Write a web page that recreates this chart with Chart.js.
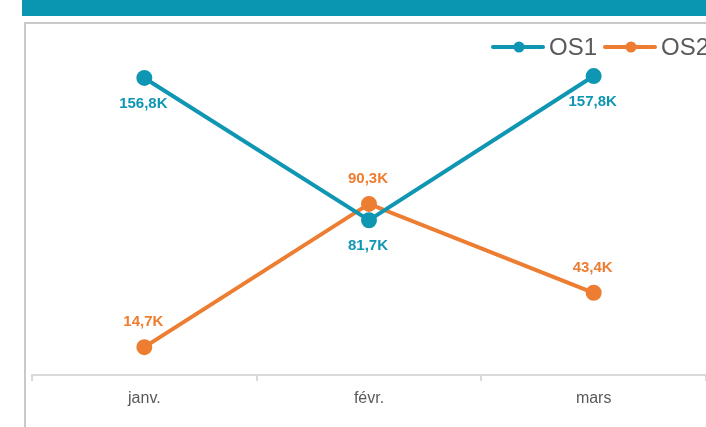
<!DOCTYPE html>
<html>
<head>
<meta charset="utf-8">
<script src="https://cdn.jsdelivr.net/npm/chart.js@4"></script>
<style>
  html, body { margin:0; padding:0; background:#fff; width:706px; height:427px; overflow:hidden; }
  #bar { position:absolute; left:22px; top:0; width:684px; height:16px; background:#0a95b1; }
  #panel { position:absolute; left:24px; top:22px; width:700px; height:420px; border-left:2px solid #c9c9c9; border-top:2px solid #c9c9c9; }
  #c { position:absolute; left:0; top:0; }
</style>
</head>
<body>
<div id="bar"></div>
<div id="panel"></div>
<canvas id="c" width="706" height="427"></canvas>
<script>
const categories = ["janv.", "févr.", "mars"];
const seriesNames = ["OS1", "OS2"];
const os1Values = [156800, 81700, 157800];
const os2Values = [14700, 90300, 43400];
const os1Labels = ["156,8K", "81,7K", "157,8K"];
const os2Labels = ["14,7K", "90,3K", "43,4K"];

const TEAL = "#0f96b3";
const ORANGE = "#ed7d31";

const labelPlugin = {
  id: "valueLabels",
  afterDatasetsDraw(chart) {
    const ctx = chart.ctx;
    ctx.save();
    ctx.font = "bold 15px 'Liberation Sans', Arial, sans-serif";
    ctx.textAlign = "center";
    ctx.textBaseline = "middle";
    chart.data.datasets.forEach((ds, di) => {
      const meta = chart.getDatasetMeta(di);
      meta.data.forEach((pt, i) => {
        ctx.fillStyle = ds.borderColor;
        const dy = ds.labelPos === "below" ? 26 : -25;
        ctx.fillText(ds.valueLabels[i], pt.x - 1, pt.y + dy);
      });
    });
    ctx.restore();
  }
};

const legendPlugin = {
  id: "lineLegend",
  afterDraw(chart) {
    const ctx = chart.ctx;
    ctx.save();
    const y = 47;
    chart.data.datasets.forEach((ds, i) => {
      const x0 = 493 + i * 112;
      ctx.strokeStyle = ds.borderColor;
      ctx.lineWidth = 4;
      ctx.lineCap = "round";
      ctx.beginPath();
      ctx.moveTo(x0, y);
      ctx.lineTo(x0 + 50, y);
      ctx.stroke();
      ctx.fillStyle = ds.borderColor;
      ctx.beginPath();
      ctx.arc(x0 + 26, y, 5.5, 0, Math.PI * 2);
      ctx.fill();
      ctx.fillStyle = "#595959";
      ctx.font = "24px 'Liberation Sans', Arial, sans-serif";
      ctx.textAlign = "left";
      ctx.textBaseline = "middle";
      ctx.fillText(ds.label, x0 + 56, y + 1);
    });
    ctx.restore();
  }
};

new Chart(document.getElementById("c"), {
  type: "line",
  data: {
    labels: categories,
    datasets: [
      { label: seriesNames[0], data: os1Values, valueLabels: os1Labels, labelPos: "below",
        borderColor: TEAL, backgroundColor: TEAL, pointBackgroundColor: TEAL, pointBorderColor: TEAL,
        borderWidth: 4, pointRadius: 6, tension: 0 },
      { label: seriesNames[1], data: os2Values, valueLabels: os2Labels, labelPos: "above",
        borderColor: ORANGE, backgroundColor: ORANGE, pointBackgroundColor: ORANGE, pointBorderColor: ORANGE,
        borderWidth: 4, pointRadius: 6, tension: 0 }
    ]
  },
  options: {
    responsive: false,
    animation: false,
    devicePixelRatio: 1,
    clip: false,
    layout: { autoPadding: false, padding: { left: 32, right: 0, top: 34, bottom: 0 } },
    plugins: { legend: { display: false }, tooltip: { enabled: false } },
    scales: {
      x: {
        offset: true,
        grid: { display: true, offset: true, drawOnChartArea: false, color: "#d9d9d9", tickLength: 6, lineWidth: 2 },
        border: { display: true, color: "#d9d9d9", width: 2 },
        ticks: { color: "#595959", font: { family: "'Liberation Sans', Arial, sans-serif", size: 16 }, padding: 8 },
        afterFit(scale) { scale.height = 52; }
      },
      y: { display: false, min: 0, max: 180000 }
    }
  },
  plugins: [labelPlugin, legendPlugin]
});
</script>
</body>
</html>
